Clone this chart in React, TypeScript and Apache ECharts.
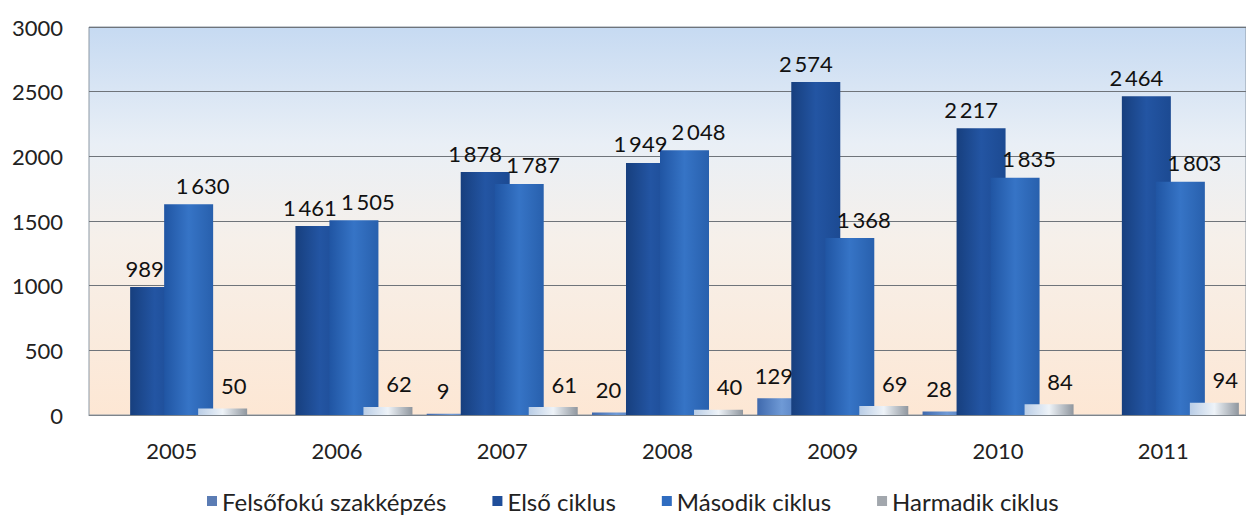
import React, { useEffect, useRef } from "react";
import * as echarts from "echarts";

const categories = ["2005", "2006", "2007", "2008", "2009", "2010", "2011"];
const seriesNames = ["Felsőfokú szakképzés", "Első ciklus", "Második ciklus", "Harmadik ciklus"];
const felsofoku: (number | null)[] = [null, null, 9, 20, 129, 28, null];
const elso = [989, 1461, 1878, 1949, 2574, 2217, 2464];
const masodik = [1630, 1505, 1787, 2048, 1368, 1835, 1803];
const harmadik = [50, 62, 61, 40, 69, 84, 94];
const yTicks = [0, 500, 1000, 1500, 2000, 2500, 3000];

const FONT = "Lato, 'Open Sans', sans-serif";

const fmt = (v: number) => {
  const s = String(Math.round(v));
  return s.length > 3 ? s.slice(0, s.length - 3) + "\u2009" + s.slice(-3) : s;
};

const hGrad = (stops: string[]) => ({
  type: "linear",
  x: 0,
  y: 0,
  x2: 1,
  y2: 0,
  colorStops: stops.map((c, i) => ({ offset: i / (stops.length - 1), color: c })),
});

export default function App() {
  const ref = useRef<HTMLDivElement>(null);
  useEffect(() => {
    document.body.style.margin = "0";
    if (!ref.current) return;
    const chart = echarts.init(ref.current, undefined, { renderer: "svg" });
    const label = (dx: number, dist: number) => ({
      show: true,
      position: "top",
      distance: dist,
      offset: [dx, 0],
      fontSize: 22,
      fontFamily: FONT,
      color: "#111",
      formatter: (p: any) => (p.value == null ? "" : fmt(p.value)),
    });
    const mk = (
      name: string,
      data: (number | null)[],
      color: any,
      legendColor: string,
      dx: number,
      dist: number
    ) => ({
      name,
      type: "bar",
      data,
      barWidth: 49,
      barGap: "-30.6%",
      itemStyle: { color },
      label: label(dx, dist),
      legendColor,
    });
    const series = [
      mk(seriesNames[0], felsofoku, hGrad(["#3f69ad", "#6f9ad6", "#4a74b8"]), "#5b7cb4", -8, 12),
      mk(seriesNames[1], elso, hGrad(["#173f7e", "#2355a3", "#1c4a92"]), "#1f4e9a", -10, 8),
      mk(seriesNames[2], masodik, hGrad(["#2055a3", "#3674c6", "#2860ad"]), "#2f6cc0", 14, 8),
      mk(seriesNames[3], harmadik, hGrad(["#b9cde6", "#eef3f8", "#8f969e"]), "#a2a7ad", 11, 12),
    ];
    chart.setOption({
      animation: false,
      backgroundColor: "#ffffff",
      textStyle: { fontFamily: FONT },
      grid: {
        left: 89,
        right: -6,
        top: 27,
        bottom: 102,
        show: true,
        borderColor: "#8c98a4",
        borderWidth: 1,
        backgroundColor: {
          type: "linear",
          x: 0,
          y: 0,
          x2: 0,
          y2: 1,
          colorStops: [
            { offset: 0, color: "#c6daf2" },
            { offset: 0.3, color: "#e9eff6" },
            { offset: 0.55, color: "#f6f0ea" },
            { offset: 1, color: "#fde7d4" },
          ],
        },
      },
      legend: {
        top: 484,
        left: 202,
        itemWidth: 10,
        itemHeight: 10,
        itemGap: 46,
        icon: "rect",
        textStyle: { fontSize: 24, lineHeight: 24, fontFamily: FONT, color: "#222" },
        data: series.map((s) => ({ name: s.name, itemStyle: { color: s.legendColor } })),
      },
      xAxis: {
        type: "category",
        data: categories,
        axisLine: { show: true, lineStyle: { color: "#7d848b" } },
        axisTick: { show: false },
        axisLabel: { fontSize: 22, fontFamily: FONT, color: "#222", margin: 24 },
      },
      yAxis: {
        type: "value",
        min: yTicks[0],
        max: yTicks[yTicks.length - 1],
        interval: 500,
        axisLine: { show: false },
        axisTick: { show: false },
        axisLabel: { fontSize: 22, fontFamily: FONT, color: "#222", margin: 26, formatter: (v: number) => String(v) },
        splitLine: { lineStyle: { color: "#6f747a", width: 1 } },
      },
      series: series.map(({ legendColor, ...s }) => s),
    } as any);
    return () => chart.dispose();
  }, []);
  return <div ref={ref} style={{ width: 1246, height: 517 }} />;
}
